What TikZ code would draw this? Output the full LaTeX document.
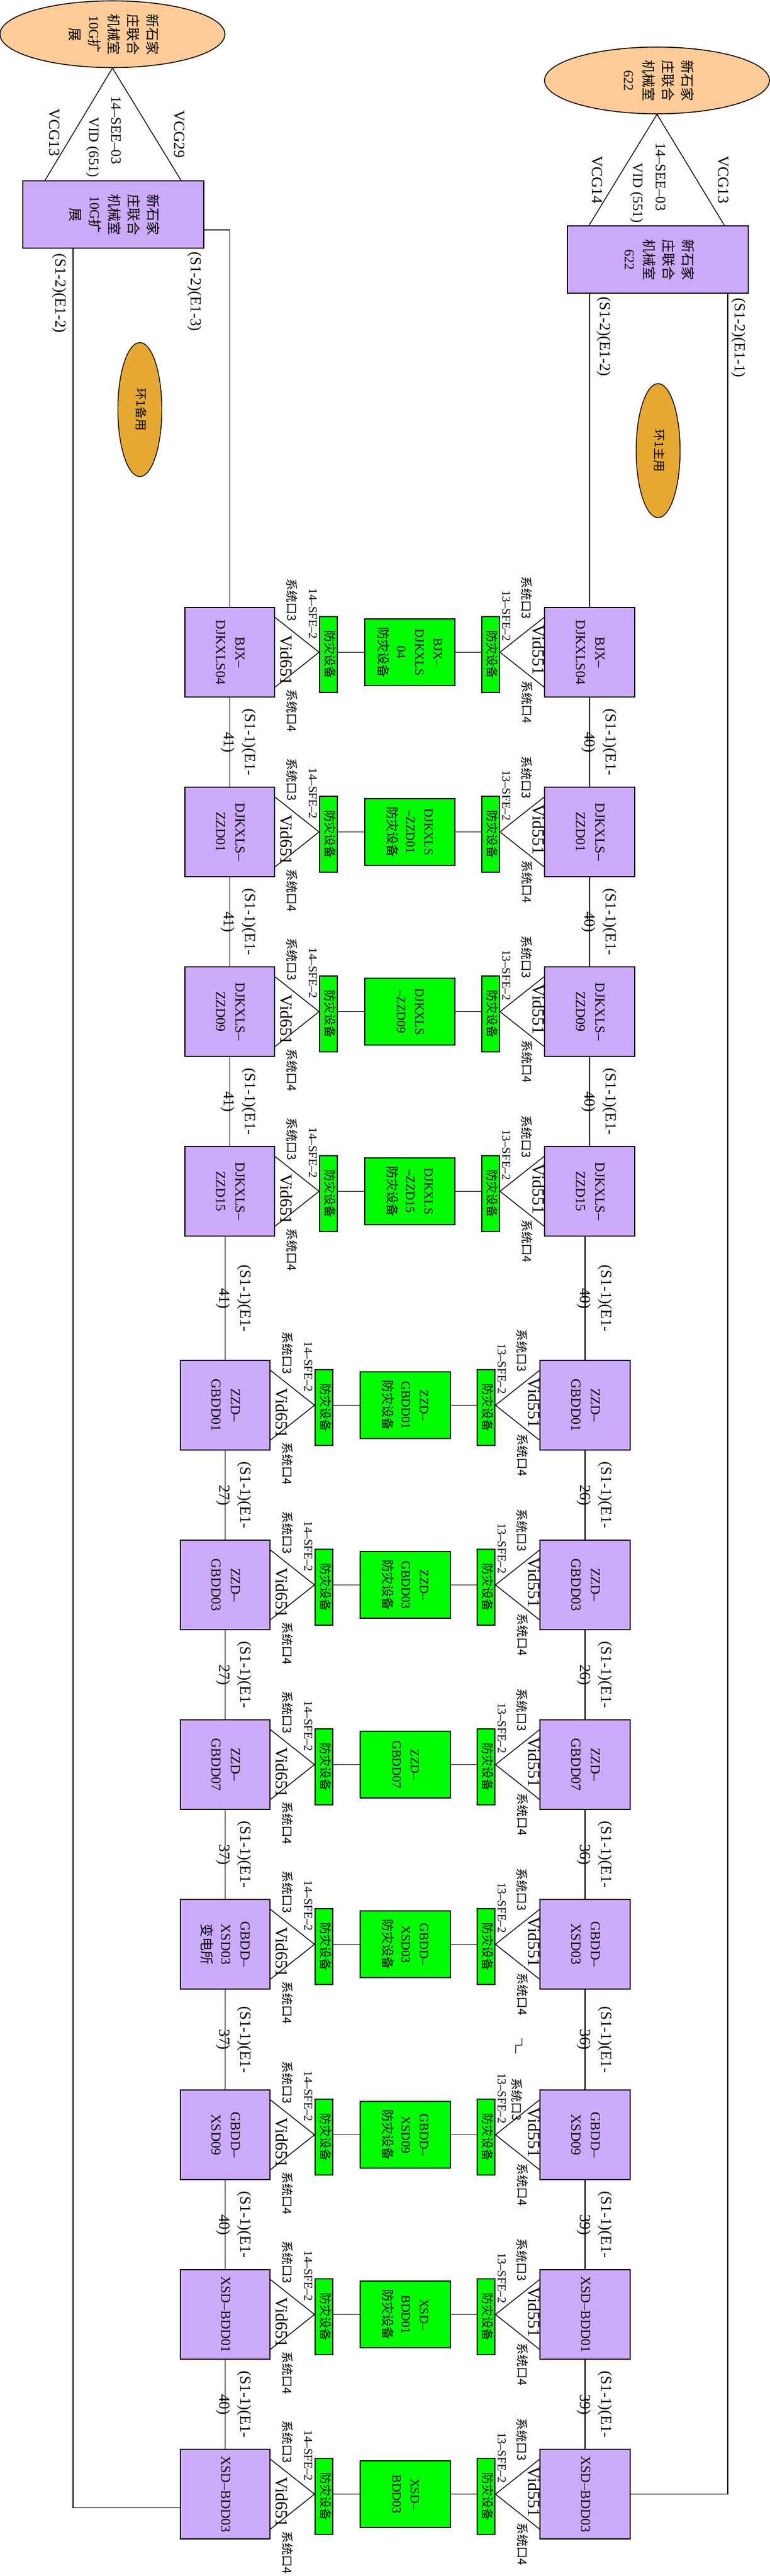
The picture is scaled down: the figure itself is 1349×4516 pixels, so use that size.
\documentclass[tikz,border=0pt]{standalone}
\usepackage{fontspec}
\setmainfont{Liberation Serif}
\newfontfamily\cjk{Noto Sans CJK SC}
\usetikzlibrary{shapes.geometric}

\definecolor{boxpurple}{RGB}{204,170,250}
\definecolor{devgreen}{RGB}{0,255,0}
\definecolor{roompeach}{RGB}{255,204,153}
\definecolor{ringorange}{RGB}{230,168,50}

\newcommand{\zh}[1]{{\cjk #1}}
\newcommand{\vtext}[1]{\rotatebox{-90}{\begin{tabular}{@{}c@{}}#1\end{tabular}}}

\tikzset{
  wire/.style={line width=1.4pt},
  room/.style={ellipse, draw, line width=1.6pt, fill=roompeach, minimum width=394pt, minimum height=117pt, inner sep=0pt, font=\fontsize{24}{34}\selectfont},
  ring/.style={ellipse, draw, line width=1.4pt, fill=ringorange, minimum width=77pt, minimum height=235pt, inner sep=0pt, font=\cjk\fontsize{21}{25}\selectfont},
  topbox/.style={draw, line width=2pt, fill=boxpurple, minimum width=317pt, minimum height=118pt, inner sep=0pt, font=\fontsize{24}{34}\selectfont},
  pbox/.style={draw, line width=2pt, fill=boxpurple, minimum width=157pt, minimum height=157pt, inner sep=0pt, font=\fontsize{24}{34}\selectfont},
  gbox/.style={draw, line width=2pt, fill=devgreen, minimum width=158pt, minimum height=117pt, inner sep=0pt, font=\fontsize{22}{32}\selectfont},
  sbox/.style={draw, line width=2pt, fill=devgreen, minimum width=31pt, minimum height=133pt, inner sep=0pt, font=\cjk\fontsize{21}{25}\selectfont},
  port/.style={inner sep=0pt, font=\cjk\fontsize{21}{25}\selectfont},
  sfe/.style={inner sep=0pt, font=\fontsize{21}{25}\selectfont},
  vid/.style={inner sep=0pt, font=\fontsize{30}{34}\selectfont},
  vcg/.style={inner sep=0pt, font=\fontsize{27}{34}\selectfont},
  see/.style={inner sep=0pt, font=\fontsize{25}{34}\selectfont},
  link/.style={inner sep=0pt, font=\fontsize{27}{37}\selectfont}
}

\begin{document}
\begin{tikzpicture}[x=1pt,y=-1pt]
    \useasboundingbox (0,0) rectangle (1349,4516);

    % nodes (rooms and rings)
    \node[room] (e1) at (197,60) {\vtext{\zh{新石家}\\\zh{庄联合}\\\zh{机械室}\\10G\zh{扩}\\\zh{展}}};
    \node[topbox] (b1) at (198.5,376) {\vtext{\zh{新石家}\\\zh{庄联合}\\\zh{机械室}\\10G\zh{扩}\\\zh{展}}};
    \node[room] (e2) at (1151,141) {\vtext{\zh{新石家}\\\zh{庄联合}\\\zh{机械室}\\622}};
    \node[topbox] (b2) at (1152.5,455) {\vtext{\zh{新石家}\\\zh{庄联合}\\\zh{机械室}\\622}};
    \node[ring] (ring1) at (245,718) {\vtext{环1备用}};
    \node[ring] (ring2) at (1153,790) {\vtext{环1主用}};

    % labels at the top
    \node[vcg] (vcgl13) at (93,232) {\vtext{VCG13}};
    \node[vcg] (vcgl29) at (312,235) {\vtext{VCG29}};
    \node[see] (seel) at (202,228) {\vtext{14--SEE--03}};
    \node[see] (vidl) at (163,258) {\vtext{VID (651)}};
    \node[vcg] (vcgr14) at (1044,315) {\vtext{VCG14}};
    \node[vcg] (vcgr13) at (1265,315) {\vtext{VCG13}};
    \node[see] (seer) at (1156,310) {\vtext{14--SEE--03}};
    \node[see] (vidr) at (1116,338) {\vtext{VID (551)}};
    \node[link] (s1l2) at (105,514) {\vtext{(S1-2)(E1-2)}};
    \node[link] (s1l3) at (342,511) {\vtext{(S1-2)(E1-3)}};
    \node[link] (s1r2) at (1059,590) {\vtext{(S1-2)(E1-2)}};
    \node[link] (s1r1) at (1295,592) {\vtext{(S1-2)(E1-1)}};

    % one row per station
    \foreach \i/\yc/\dx/\ltxt/\rtxt/\mtxt in {
      1/1143.5/0/{BJX--\\DJKXLS04}/{BJX--\\DJKXLS04}/{BJX--\\DJKXLS\\04\\\zh{防灾设备}},
      2/1458.5/0/{DJKXLS--\\ZZD01}/{DJKXLS--\\ZZD01}/{DJKXLS\\--ZZD01\\\zh{防灾设备}},
      3/1773.5/0/{DJKXLS--\\ZZD09}/{DJKXLS--\\ZZD09}/{DJKXLS\\--ZZD09},
      4/2088.5/0/{DJKXLS--\\ZZD15}/{DJKXLS--\\ZZD15}/{DJKXLS\\--ZZD15\\\zh{防灾设备}},
      5/2463.5/-8/{ZZD--\\GBDD01}/{ZZD--\\GBDD01}/{ZZD--\\GBDD01\\\zh{防灾设备}},
      6/2778.5/-8/{ZZD--\\GBDD03}/{ZZD--\\GBDD03}/{ZZD--\\GBDD03\\\zh{防灾设备}},
      7/3093.5/-8/{ZZD--\\GBDD07}/{ZZD--\\GBDD07}/{ZZD--\\GBDD07},
      8/3408.5/-8/{GBDD--\\XSD03\\\zh{变电所}}/{GBDD--\\XSD03}/{GBDD--\\XSD03\\\zh{防灾设备}},
      9/3742.5/-8/{GBDD--\\XSD09}/{GBDD--\\XSD09}/{GBDD--\\XSD09\\\zh{防灾设备}},
      10/4057.5/-8/{XSD--BDD01}/{XSD--BDD01}/{XSD--\\BDD01\\\zh{防灾设备}},
      11/4372.5/-8/{XSD--BDD03}/{XSD--BDD03}/{XSD--\\BDD03}} {
      \ifnum\i=9 \def\rpx{-42}\def\rpy{61.5}\else \def\rpx{-33}\def\rpy{96}\fi
      \node[pbox] (lbox\i) at ({402.5+\dx},\yc) {\vtext{\ltxt}};
      \node[pbox, minimum width=158pt] (rbox\i) at ({1033+\dx},\yc) {\vtext{\rtxt}};
      \node[sbox] (lsfe\i) at ({575.5+\dx},{\yc+4}) {\vtext{防灾设备}};
      \node[gbox] (mid\i) at ({718+\dx},\yc) {\vtext{\mtxt}};
      \node[sbox] (rsfe\i) at ({859.5+\dx},{\yc+4}) {\vtext{防灾设备}};
      \draw[wire] ([yshift=61pt]lbox\i.east) -- (lsfe\i.west |- lbox\i.east) -- ([yshift=-61pt]lbox\i.east); % Vid651
      \draw[wire] (lsfe\i.east |- mid\i.west) -- (mid\i.west);
      \draw[wire] (mid\i.east) -- (rsfe\i.west |- mid\i.east);
      \draw[wire] ([yshift=61pt]rbox\i.west) -- (rsfe\i.east |- rbox\i.west) -- ([yshift=-61pt]rbox\i.west); % Vid551
      \node[port] (lpa\i) at ([xshift=27pt,yshift=91.5pt]lbox\i.east) {\vtext{系统口3}};
      \node[sfe] (lsfl\i) at ([xshift=64pt,yshift=67.5pt]lbox\i.east) {\vtext{14--SFE--2}};
      \node[vid] (lvid\i) at ([xshift=16pt,yshift=-14pt]lbox\i.east) {\vtext{Vid651}};
      \node[port] (lpb\i) at ([xshift=27pt,yshift=-102pt]lbox\i.east) {\vtext{系统口4}};
      \node[port] (rpa\i) at ([xshift=\rpx pt,yshift=\rpy pt]rbox\i.west) {\vtext{系统口3}};
      \node[sfe] (rsfl\i) at ([xshift=-68pt,yshift=64pt]rbox\i.west) {\vtext{13--SFE--2}};
      \node[vid] (rvid\i) at ([xshift=-13pt,yshift=4pt]rbox\i.west) {\vtext{Vid551}};
      \node[port] (rpb\i) at ([xshift=-32pt,yshift=-87pt]rbox\i.west) {\vtext{系统口4}};
    }

    % edges
    \draw[wire] ([xshift=40pt]b1.north west) -- (e1.south) -- ([xshift=-41pt]b1.north east); % VCG13, VCG29
    \draw[wire] ([xshift=39pt]b2.north west) -- (e2.south) -- ([xshift=-43pt]b2.north east); % VCG14, VCG13
    \draw[wire] ([yshift=-27pt]b1.east) -| (lbox1.north); % E1-3
    \draw[wire] ([xshift=89pt]b1.south west) |- ([yshift=-24pt]lbox11.west); % E1-2
    \draw[wire] (rbox1.north |- b2.south) -- (rbox1.north); % E1-2
    \draw[wire] ([xshift=-37pt]b2.south east) |- (rbox11.east); % E1-1
    \foreach \i/\j/\a/\b in {1/2/41/40, 2/3/41/40, 3/4/41/40, 4/5/41/40, 5/6/27/26,
                             6/7/27/26, 7/8/37/36, 8/9/37/36, 9/10/40/39, 10/11/40/39} {
      \draw[wire] (lbox\j.north |- lbox\i.south) -- (lbox\j.north)
        node[midway, link, xshift=16pt] (llab\i) {\vtext{(S1-1)(E1-\\\a)}};
      \draw[wire] (rbox\j.north |- rbox\i.south) -- (rbox\j.north)
        node[midway, link, xshift=17pt] (rlab\i) {\vtext{(S1-1)(E1-\\\b)}};
    }
    \draw[line width=1pt] (914,3573) -- (914,3585) -- (903,3585) -- (903,3600);

\end{tikzpicture}
\end{document}
